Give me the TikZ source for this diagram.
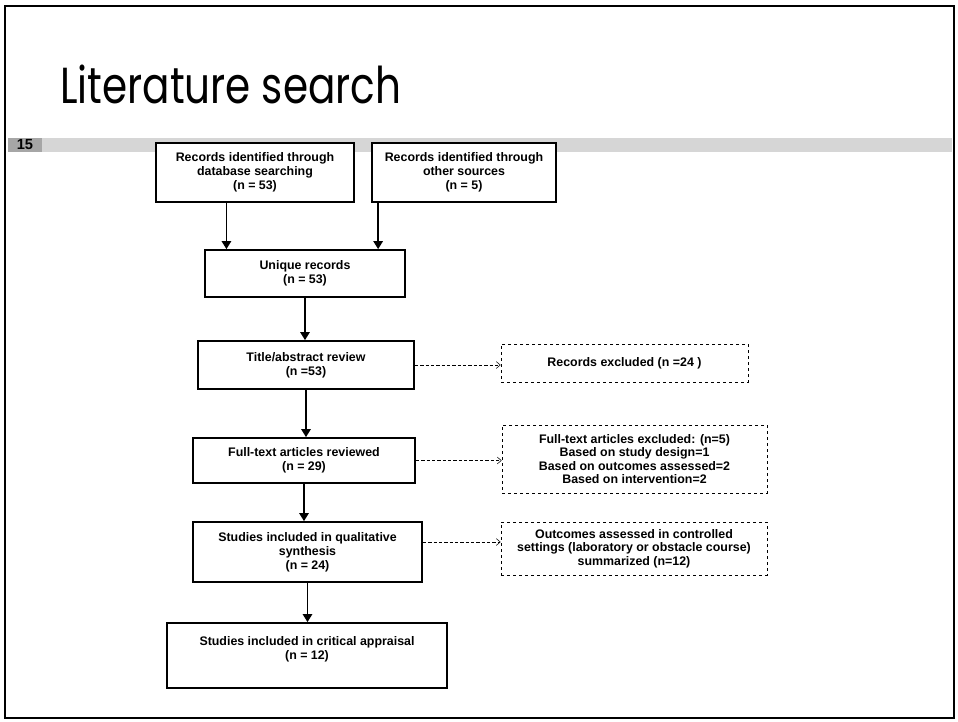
\documentclass[tikz,border=0pt]{standalone}
\usepackage{fontspec}
\setmainfont{Liberation Sans}
\newfontfamily\headfont{Poppins}
\usepackage{tikz}
\usetikzlibrary{calc,positioning,arrows.meta}

\begin{document}
\begin{tikzpicture}[x=0.75pt,y=-0.75pt]
\tikzstyle{stage}=[draw,line width=1.3pt,fill=white,align=center,inner sep=2pt,font=\bfseries\fontsize{9.3}{10.5}\selectfont]
\tikzstyle{excluded}=[draw,thin,dash pattern=on 2.5pt off 2pt,fill=white,align=center,inner sep=2pt,font=\bfseries\fontsize{9.3}{10}\selectfont]
\tikzstyle{flow}=[line width=1.3pt,-{Triangle[width=7pt,length=6pt]}]
\tikzstyle{skip}=[thin,dash pattern=on 2.5pt off 1.5pt,-{Straight Barb[length=3pt,width=5pt]}]

\useasboundingbox (0,0) rectangle (958,722);
\fill[white] (0,0) rectangle (958,722);

% slide frame and header band
\draw[line width=1.6pt] (5,6) rectangle (954,718);
\fill[black!16] (8,138) rectangle (952,152);
\node (slide_no) [fill=black!35,minimum width=25.5pt,minimum height=10.5pt,inner sep=0pt,font=\bfseries\fontsize{11}{11}\selectfont] at (25,145) {15};
\node (heading) [anchor=base west,inner sep=0pt,font=\headfont\fontsize{38}{40}\selectfont] at (60,103) {\scalebox{0.8}[1]{Literature search}};

\node (records_db) [stage,minimum width=148.5pt,minimum height=44.25pt] at (255,172.5) {Records identified through\\database searching\\(n = 53)};
\node (records_other) [stage,minimum width=138pt,minimum height=44.25pt] at (464,172.5) {Records identified through\\other sources\\(n = 5)};
\node (unique) [stage,minimum width=150pt,minimum height=35.25pt] at (305,273.5) {Unique records\\(n = 53)};
\node (screen) [stage,minimum width=162pt,minimum height=36pt] at (306,365) {Title/abstract review\\(n =53)};
\node (fulltext) [stage,minimum width=166.5pt,minimum height=33.75pt] at (304,460.5) {Full-text articles reviewed\\(n = 29)};
\node (qualit) [stage,minimum width=171.75pt,minimum height=45pt] at (307.5,552) {Studies included in qualitative\\synthesis\\(n = 24)};
\node (appraisal) [stage,minimum width=210pt,minimum height=48.75pt,text depth=12pt] at (307,655.5) {Studies included in critical appraisal\\(n = 12)};

% exclusions on the right
\node (excl_screen) [excluded,minimum width=185.25pt,minimum height=28.5pt] at (624.5,363) {Records excluded (n =24 )};
\node (excl_full) [excluded,minimum width=198.75pt,minimum height=51pt] at (634.5,459) {Full-text articles excluded: (n=5)\\Based on study design=1\\Based on outcomes assessed=2\\Based on intervention=2};
\node (excl_qualit) [excluded,minimum width=199.5pt,minimum height=39.75pt] at (634,548.5) {Outcomes assessed in controlled\\settings (laboratory or obstacle course)\\summarized (n=12)};

\coordinate (db_out) at ($(records_db.south west)!0.357!(records_db.south east)$);
\coordinate (other_out) at ($(records_other.south west)+(7,0)$);
\draw[flow] (db_out) -- (db_out |- unique.north);
\draw[flow] (other_out) -- (other_out |- unique.north);
\draw[flow] (unique.south) -- (unique.south |- screen.north);
\draw[flow] (screen.south) -- (screen.south |- fulltext.north);
\draw[flow] (fulltext.south) -- (fulltext.south |- qualit.north);
\draw[flow] (qualit.south) -- (qualit.south |- appraisal.north);

\coordinate (qualit_out) at ($(qualit.east)+(0,-10)$);
\draw[skip] (screen.east) -- (screen.east -| excl_screen.west);
\draw[skip] (fulltext.east) -- (fulltext.east -| excl_full.west);
\draw[skip] (qualit_out) -- (qualit_out -| excl_qualit.west);

\end{tikzpicture}
\end{document}
